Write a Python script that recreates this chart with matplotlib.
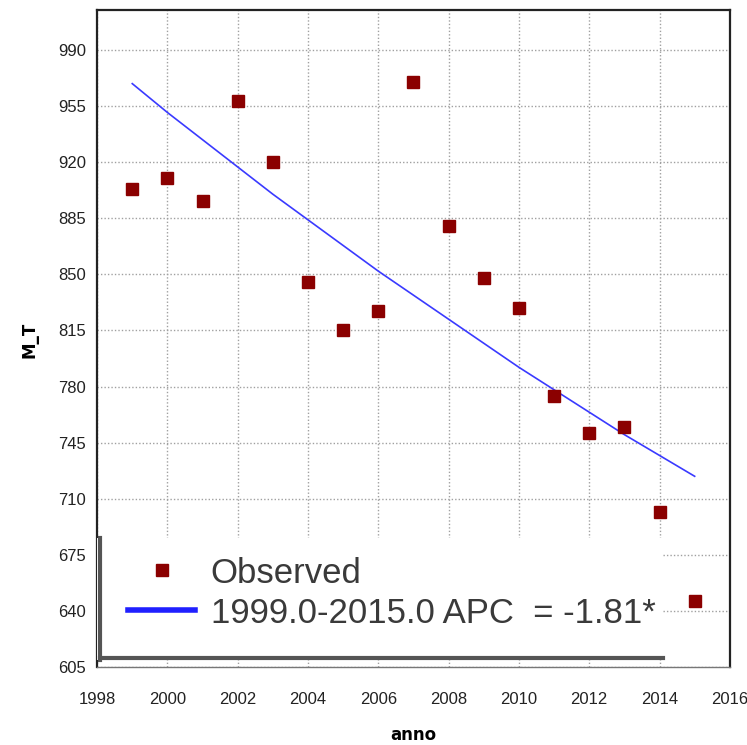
import numpy as np
import matplotlib
matplotlib.use('Agg')
import matplotlib.pyplot as plt
from matplotlib.lines import Line2D
from matplotlib.patches import Rectangle

years = [1999, 2000, 2001, 2002, 2003, 2004, 2005, 2006, 2007,
         2008, 2009, 2010, 2011, 2012, 2013, 2014, 2015]
observed = [903, 910, 896, 958, 920, 845, 815, 827, 970,
            880, 848, 829, 774, 751, 755, 702, 646]
# joinpoint fitted line
fitted = [969, 951, 934, 917, 900, 884, 868, 852, 837,
          822, 807, 792, 778, 764, 750, 737, 724]

yticks = [605, 640, 675, 710, 745, 780, 815, 850, 885, 920, 955, 990]
xticks = [1998, 2000, 2002, 2004, 2006, 2008, 2010, 2012, 2014, 2016]

tickfont = ['Liberation Sans', 'DejaVu Sans']

fig = plt.figure(figsize=(7.47, 7.45), dpi=100)
ax = fig.add_axes([0.130, 0.1047, 0.847, 0.882])

ax.plot(years, fitted, color='#3a3aff', lw=1.2, zorder=3)
ax.plot(years, observed, ls='none', marker='s', ms=8.5, color='#8b0000', zorder=4)

ax.set_xlim(1998, 2016)
ax.set_ylim(605, 1015)
ax.set_xticks(xticks)
ax.set_yticks(yticks)
ax.grid(True, ls=(0, (1, 1.5)), color='#a0a0a0', lw=1)
ax.tick_params(length=0, pad=8)
ax.tick_params(axis='x', pad=18)
for lab in ax.get_xticklabels() + ax.get_yticklabels():
    lab.set_family(tickfont)
    lab.set_fontsize(12)
    lab.set_color('#222222')
for s in ax.spines.values():
    s.set_color('#222222')
    s.set_linewidth(1.6)
ax.spines['bottom'].set_color('#777777')
ax.spines['bottom'].set_linewidth(1)

fig.text(413 / 747, 1 - 735 / 745, 'anno', ha='center', va='center',
         fontsize=12, fontweight='bold')
fig.text(30 / 747, 1 - 340 / 745, 'M_T', ha='center', va='center',
         rotation=90, fontsize=12, fontweight='bold')

# legend box (white, with dark shadow left and bottom)
ax.add_patch(Rectangle((0.0, 0.011), 0.895, 0.185, transform=ax.transAxes,
                       facecolor='white', edgecolor='none', zorder=9, clip_on=False))
ax.plot([0.004, 0.004], [0.011, 0.196], transform=ax.transAxes, color='#555555',
        lw=3, zorder=11, clip_on=False)
ax.plot([0.004, 0.895], [0.013, 0.013], transform=ax.transAxes, color='#555555',
        lw=3, zorder=11, clip_on=False)

handles = [Line2D([], [], ls='none', marker='s', ms=9, color='#8b0000'),
           Line2D([], [], color='#2020ff', lw=4)]
leg = ax.legend(handles, ['Observed', '1999.0-2015.0 APC  = -1.81*'],
                loc='upper left', bbox_to_anchor=(0.049, 0.168),
                frameon=False, borderaxespad=0, borderpad=0,
                prop={'family': tickfont, 'size': 25}, handlelength=1.93,
                labelspacing=0.2, handletextpad=0.45)
leg.set_zorder(12)
for t in leg.get_texts():
    t.set_color('#3a3a3a')

fig.savefig('out.png', dpi=100)
